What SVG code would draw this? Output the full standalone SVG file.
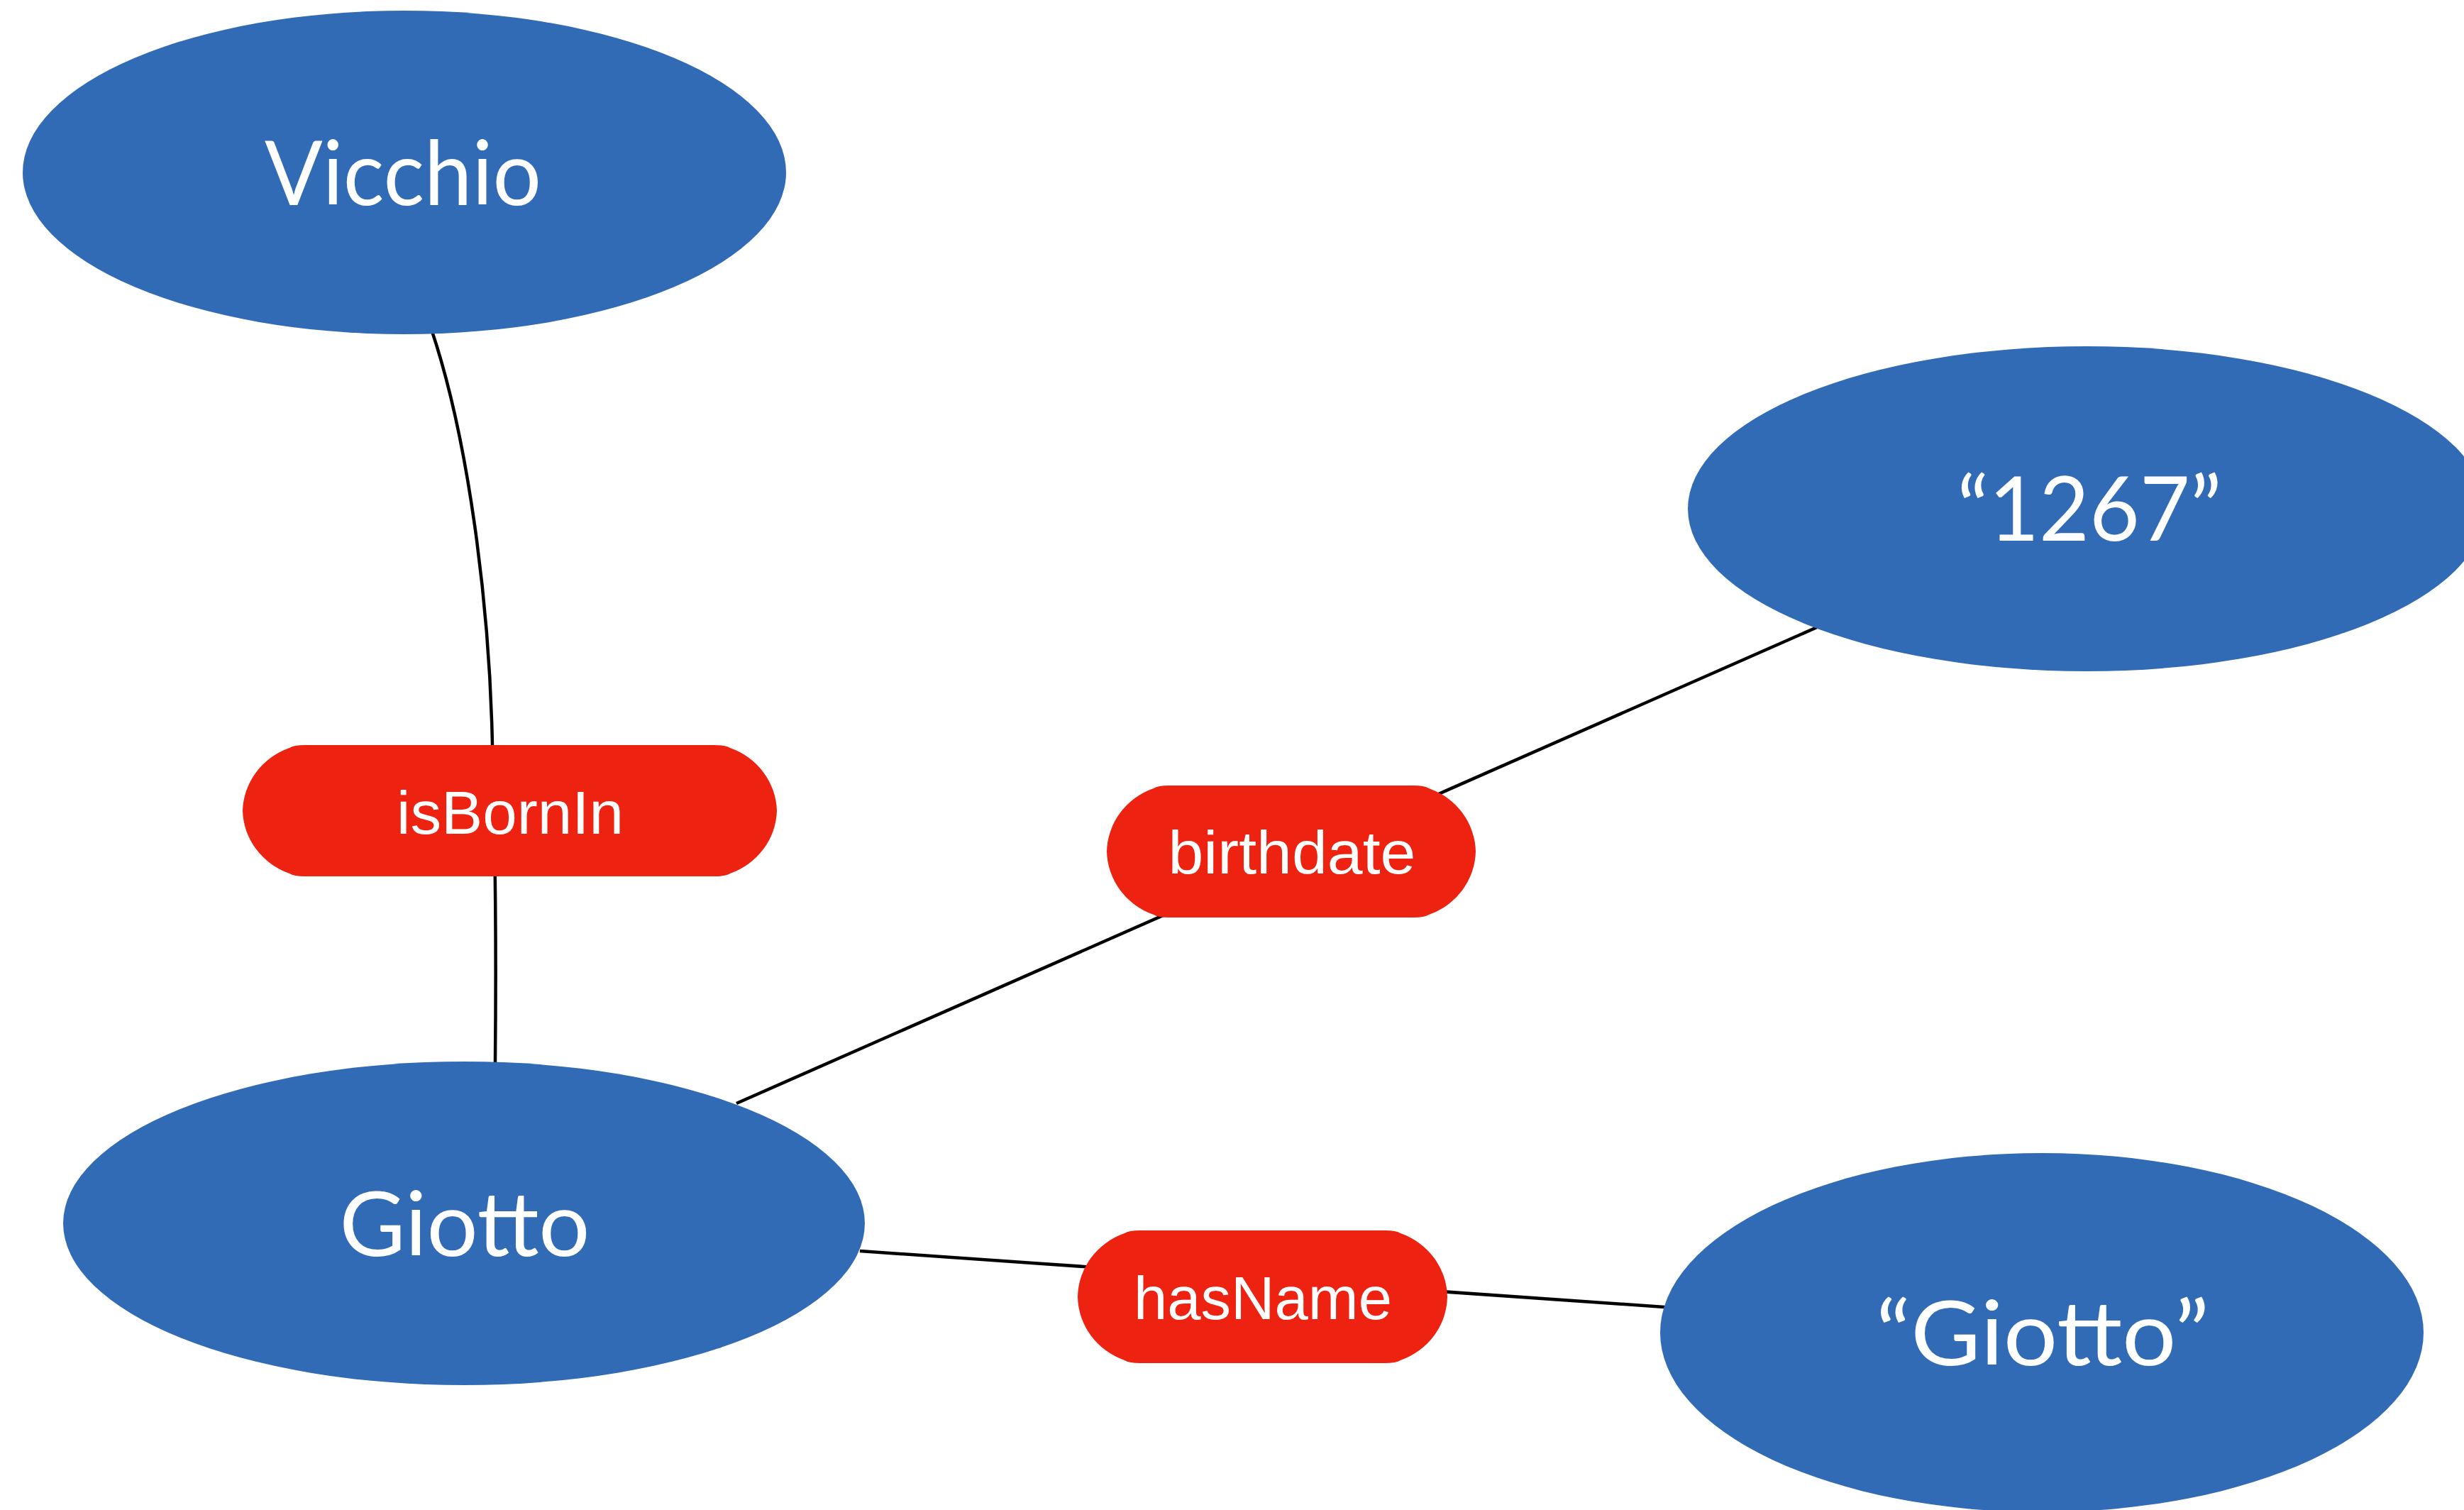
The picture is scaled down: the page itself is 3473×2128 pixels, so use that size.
<svg xmlns="http://www.w3.org/2000/svg" width="3473" height="2128" viewBox="0 0 3473 2128">
<style>
.ent{fill:#316BB5}
.rel{fill:#EE2210}
.et{font-family:Lato,"Open Sans","Liberation Sans",sans-serif;font-size:127px;fill:#ffffff;text-anchor:middle}
.rt{font-family:"Liberation Sans",Arial,sans-serif;font-size:85px;fill:#ffffff;text-anchor:middle}
.edge{fill:none;stroke:#000000;stroke-width:4.5}
</style>
<rect width="3473" height="2128" fill="#ffffff"/>
<g id="connectors">
<path class="edge" d="M609,467 C660,620 690,850 694,1050 C697,1150 700,1300 698,1497"/>
<path class="edge" d="M1038,1555 L2561,884"/>
<path class="edge" d="M1212,1763 L2346,1842"/>
</g>
<g id="vicchio">
<ellipse class="ent" cx="570" cy="243" rx="538" ry="228"/>
<text class="et" x="568" y="289" textLength="390" lengthAdjust="spacingAndGlyphs">Vicchio</text>
</g>
<g id="lit1267">
<ellipse class="ent" cx="2941" cy="717" rx="562" ry="229"/>
<text class="et" x="2945" y="762" textLength="373" lengthAdjust="spacingAndGlyphs">“1267”</text>
</g>
<g id="giotto">
<ellipse class="ent" cx="654" cy="1724" rx="565" ry="228"/>
<text class="et" x="655" y="1770" textLength="353" lengthAdjust="spacingAndGlyphs">Giotto</text>
</g>
<g id="litGiotto">
<ellipse class="ent" cx="2878" cy="1878" rx="538" ry="253"/>
<text class="et" x="2879" y="1924" textLength="470" lengthAdjust="spacingAndGlyphs">“Giotto”</text>
</g>
<g id="isBornIn">
<path class="rel" d="M430,1050 H1007 Q1023,1050 1029,1054 A100,97 0 0 1 1095,1142.5 A100,97 0 0 1 1029,1231 Q1023,1235 1007,1235 H430 Q414,1235 408,1231 A100,97 0 0 1 342,1142.5 A100,97 0 0 1 408,1054 Q414,1050 430,1050 Z"/>
<text class="rt" x="719" y="1175" textLength="320" lengthAdjust="spacingAndGlyphs">isBornIn</text>
</g>
<g id="birthdate">
<path class="rel" d="M1648,1107 H1992 Q2008,1107 2014,1111 A100,97 0 0 1 2080,1200 A100,97 0 0 1 2014,1289 Q2008,1293 1992,1293 H1648 Q1632,1293 1626,1289 A100,97 0 0 1 1560,1200 A100,97 0 0 1 1626,1111 Q1632,1107 1648,1107 Z"/>
<text class="rt" x="1821" y="1231" textLength="349" lengthAdjust="spacingAndGlyphs">birthdate</text>
</g>
<g id="hasName">
<path class="rel" d="M1607,1734 H1952 Q1968,1734 1974,1738 A100,97 0 0 1 2040,1827.5 A100,97 0 0 1 1974,1917 Q1968,1921 1952,1921 H1607 Q1591,1921 1585,1917 A100,97 0 0 1 1519,1827.5 A100,97 0 0 1 1585,1738 Q1591,1734 1607,1734 Z"/>
<text class="rt" x="1780" y="1859" textLength="364" lengthAdjust="spacingAndGlyphs">hasName</text>
</g>
</svg>
